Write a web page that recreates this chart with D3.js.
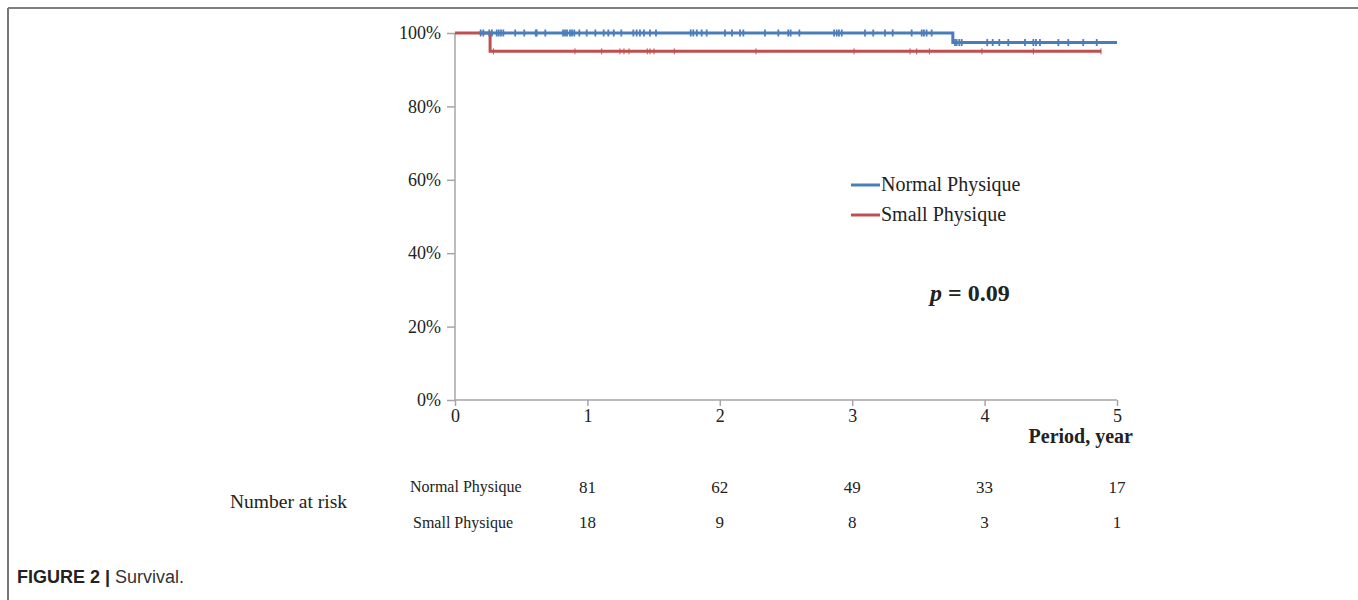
<!DOCTYPE html>
<html>
<head>
<meta charset="utf-8">
<style>
  body { margin: 0; background: #fff; }
  svg text { font-family: "Liberation Serif", "Times New Roman", serif; fill: #222; }
  .caption { font-family: "Liberation Sans", Arial, sans-serif; }
</style>
</head>
<body>
<svg width="1358" height="600"></svg>
<script src="https://d3js.org/d3.v7.min.js"></script>
<script>

// survival steps (year, proportion surviving)
var normalTimes = [0.18, 3.76, 5.0];
var normalSurv = [1, 0.974, 0.974];
var smallTimes = [0, 0.265, 4.88];
var smallSurv = [1, 0.95, 0.95];

// censored observations (year)
var normalCensor = [0.194, 0.214, 0.259, 0.279, 0.315, 0.330, 0.347, 0.365, 0.455, 0.523,
  0.610, 0.617, 0.682, 0.816, 0.831, 0.846, 0.869, 0.884, 0.901, 0.939, 0.995, 1.060,
  1.123, 1.158, 1.199, 1.256, 1.347, 1.372, 1.397, 1.427, 1.473, 1.518, 1.780, 1.800,
  1.826, 1.863, 1.901, 2.039, 2.092, 2.153, 2.178, 2.341, 2.442, 2.517, 2.535, 2.601,
  2.863, 2.883, 2.900, 2.921, 3.097, 3.159, 3.248, 3.306, 3.449, 3.525, 3.542, 3.562,
  3.600, 3.776, 3.789, 3.809, 3.827, 4.020, 4.061, 4.111, 4.179, 4.305, 4.368, 4.388,
  4.418, 4.557, 4.632, 4.745, 4.847];
var smallCensor = [0.29, 0.906, 1.108, 1.246, 1.276, 1.314, 1.452, 1.473, 1.503, 1.656,
  2.273, 3.014, 3.437, 3.487, 3.583, 3.980, 4.368, 4.879];

var seriesNames = ["Normal Physique", "Small Physique"];
var xTicks = [0, 1, 2, 3, 4, 5];
var yTicks = [0, 0.2, 0.4, 0.6, 0.8, 1];
var riskNormal = [81, 62, 49, 33, 17];
var riskSmall = [18, 9, 8, 3, 1];

var blue = "#4a7ebb", red = "#c0504d", axisGray = "#a6a6a6";

var svg = d3.select("svg");

// figure frame
svg.append("line").attr("x1", 8).attr("y1", 8).attr("x2", 1358).attr("y2", 8)
    .attr("stroke", "#555").attr("stroke-width", 1.5);
svg.append("line").attr("x1", 8).attr("y1", 8).attr("x2", 8).attr("y2", 600)
    .attr("stroke", "#777").attr("stroke-width", 2);

var x = d3.scaleLinear().domain([0, 5]).range([455, 1117]);
var y = d3.scaleLinear().domain([0, 1]).range([400, 33]);

// y axis
var yAxis = svg.append("g")
    .attr("transform", "translate(455,0)")
    .call(d3.axisLeft(y).tickValues(yTicks).tickFormat(d3.format(".0%")).tickSize(8).tickPadding(6));
// x axis
var xAxis = svg.append("g")
    .attr("transform", "translate(0,400)")
    .call(d3.axisBottom(x).tickValues(xTicks).tickFormat(d3.format("d")).tickSize(6).tickPadding(3));

[yAxis, xAxis].forEach(function(a) {
  a.select(".domain").attr("stroke", axisGray).attr("stroke-width", 1.5);
  a.selectAll(".tick line").attr("stroke", axisGray).attr("stroke-width", 1.5);
  a.selectAll(".tick text").attr("fill", "#222")
      .style("font-family", "'Liberation Serif', serif").style("font-size", "18px");
});
yAxis.select(".domain").attr("d", "M0,400V" + y(1));
xAxis.select(".domain").attr("d", "M" + x(0) + ",0H" + x(5));

svg.append("text").attr("x", 1133).attr("y", 443)
    .attr("text-anchor", "end")
    .style("font-size", "20px").style("font-weight", "bold")
    .text("Period, year");

// step curves
var line = d3.line().curve(d3.curveStepAfter)
    .x(function(d) { return x(d[0]); })
    .y(function(d) { return y(d[1]); });

function survAt(times, surv, t) {
  var s = surv[0];
  for (var i = 0; i < times.length; i++) if (t >= times[i]) s = surv[i];
  return s;
}

function drawSeries(times, surv, censor, color, tickH, tickW) {
  svg.append("path")
      .datum(d3.zip(times, surv))
      .attr("fill", "none")
      .attr("stroke", color)
      .attr("stroke-width", 3)
      .attr("d", line);
  svg.append("g").selectAll("line")
      .data(censor)
      .join("line")
      .attr("x1", function(d) { return x(d); })
      .attr("x2", function(d) { return x(d); })
      .attr("y1", function(d) { return y(survAt(times, surv, d)) - tickH; })
      .attr("y2", function(d) { return y(survAt(times, surv, d)) + tickH; })
      .attr("stroke", color)
      .attr("stroke-width", tickW);
}

drawSeries(smallTimes, smallSurv, smallCensor, red, 3, 1);
drawSeries(normalTimes, normalSurv, normalCensor, blue, 3.5, 1.8);

// legend
var legend = svg.append("g");
[blue, red].forEach(function(c, i) {
  var ly = 185 + i * 30;
  legend.append("line").attr("x1", 851).attr("x2", 880).attr("y1", ly).attr("y2", ly)
      .attr("stroke", c).attr("stroke-width", 3);
  legend.append("text").attr("x", 881).attr("y", ly + 6)
      .style("font-size", "20px").text(seriesNames[i]);
});

// p value
var pText = svg.append("text").attr("x", 930).attr("y", 301)
    .style("font-size", "24px").style("font-weight", "bold");
pText.append("tspan").style("font-style", "italic").text("p");
pText.append("tspan").text(" = 0.09");

// number at risk table
svg.append("text").attr("x", 230).attr("y", 508).style("font-size", "19.5px").text("Number at risk");
svg.append("text").attr("x", 410).attr("y", 492).style("font-size", "16px").text(seriesNames[0]);
svg.append("text").attr("x", 413).attr("y", 528).style("font-size", "16px").text(seriesNames[1]);

[riskNormal, riskSmall].forEach(function(row, r) {
  svg.append("g").selectAll("text")
      .data(row)
      .join("text")
      .attr("x", function(d, i) { return x(xTicks[i + 1]); })
      .attr("y", 493 + r * 35)
      .attr("text-anchor", "middle")
      .style("font-size", "17px")
      .text(function(d) { return d; });
});

// caption
var cap = svg.append("text").attr("class", "caption").attr("x", 17).attr("y", 583)
    .style("font-size", "18px");
cap.append("tspan").style("font-weight", "bold").attr("fill", "#222").text("FIGURE 2 | ");
cap.append("tspan").attr("fill", "#333").text("Survival.");

</script>
</body>
</html>
